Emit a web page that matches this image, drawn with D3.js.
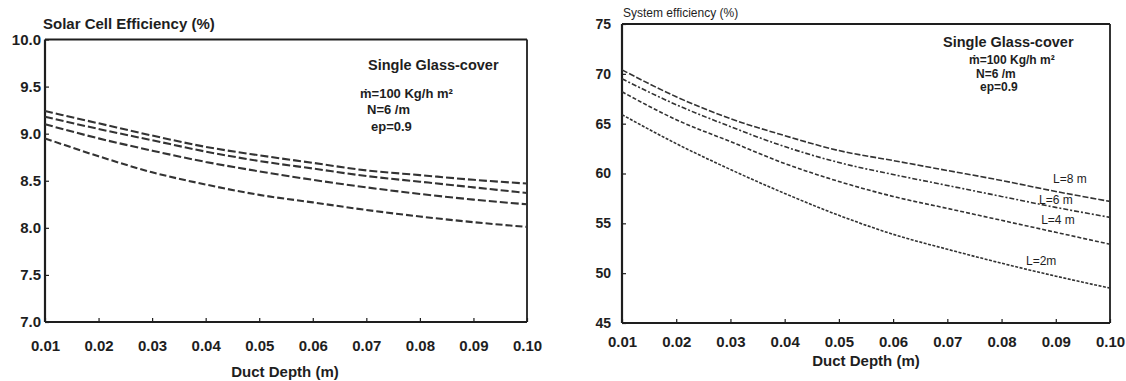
<!DOCTYPE html>
<html>
<head>
<meta charset="utf-8">
<script src="https://cdn.jsdelivr.net/npm/d3@7"></script>
<style>
  html,body{margin:0;padding:0;background:#fff;}
  svg{display:block;}
  text{font-family:"Liberation Sans", Arial, sans-serif; fill:#1e1e1e;}
</style>
</head>
<body>
<svg id="chart" width="1126" height="381"></svg>
<script>
// ---------- DATA ----------
const depth = [0.01,0.02,0.03,0.04,0.05,0.06,0.07,0.08,0.09,0.10];
const depthTicks = [0.01,0.02,0.03,0.04,0.05,0.06,0.07,0.08,0.09,0.10];

// Left panel: solar cell efficiency (%)
const cellL8 = [9.24,9.11,8.98,8.86,8.77,8.69,8.61,8.56,8.51,8.47];
const cellL6 = [9.18,9.05,8.93,8.81,8.71,8.63,8.55,8.49,8.43,8.37];
const cellL4 = [9.10,8.95,8.82,8.70,8.60,8.51,8.43,8.36,8.30,8.25];
const cellL2 = [8.95,8.76,8.59,8.46,8.35,8.27,8.19,8.12,8.06,8.01];
const cellTicks = [7.0,7.5,8.0,8.5,9.0,9.5,10.0];

// Right panel: system efficiency (%)
const sysL8 = [70.4,67.7,65.5,63.8,62.3,61.3,60.3,59.3,58.2,57.2];
const sysL6 = [69.5,66.9,64.7,62.7,61.1,59.9,58.8,57.7,56.6,55.6];
const sysL4 = [68.2,65.4,63.2,61.0,59.2,57.7,56.5,55.3,54.1,52.9];
const sysL2 = [65.9,63.0,60.4,58.0,55.8,53.9,52.4,51.0,49.7,48.5];
const sysTicks = [45,50,55,60,65,70,75];
const sysLabels = ["L=8 m","L=6 m","L=4 m","L=2m"];
const sysLabelDepth = [0.0895,0.0869,0.0873,0.0845];

// ---------- DRAW ----------
const svg = d3.select("#chart");
const ink = "#1e1e1e";
const FONT = '"Liberation Sans", Arial, sans-serif';

function panel(opt){
  const g = svg.append("g");
  const x = d3.scaleLinear().domain([0.01,0.10]).range([opt.x0,opt.x1]);
  const y = d3.scaleLinear().domain(opt.yDomain).range([opt.y1,opt.y0]);

  const xa = g.append("g").attr("transform",`translate(0,${opt.y1})`)
    .call(d3.axisBottom(x).tickValues(depthTicks).tickSize(-4).tickPadding(opt.xPad).tickFormat(d3.format(".2f")));
  const ya = g.append("g").attr("transform",`translate(${opt.x0},0)`)
    .call(d3.axisLeft(y).tickValues(opt.yTicks).tickSize(-4).tickPadding(opt.yPad).tickFormat(opt.yFmt));
  [xa,ya].forEach(a=>{
    a.select(".domain").remove();
    a.selectAll(".tick line").attr("stroke",ink).attr("stroke-width",1.2);
    a.selectAll("text").attr("font-size",15).attr("font-weight","bold").attr("fill",ink).attr("font-family",FONT);
  });
  ya.selectAll("text").attr("font-size",opt.yFont);

  g.append("line").attr("x1",opt.x0).attr("x2",opt.x0).attr("y1",opt.y0).attr("y2",opt.y1).attr("stroke",ink).attr("stroke-width",2.2);
  g.append("line").attr("x1",opt.x0).attr("x2",opt.x1).attr("y1",opt.y1).attr("y2",opt.y1).attr("stroke",ink).attr("stroke-width",2.2);
  g.append("line").attr("x1",opt.x0).attr("x2",opt.x1).attr("y1",opt.y0).attr("y2",opt.y0).attr("stroke",ink).attr("stroke-width",2);
  g.append("line").attr("x1",opt.x1).attr("x2",opt.x1).attr("y1",opt.y0).attr("y2",opt.y1).attr("stroke",ink).attr("stroke-width",1.8);

  const line = d3.line().x((d,i)=>x(depth[i])).y(d=>y(d)).curve(d3.curveMonotoneX);
  opt.series.forEach((s,i)=>{
    g.append("path").attr("d",line(s)).attr("fill","none").attr("stroke",opt.stroke)
      .attr("stroke-width",opt.sw).attr("stroke-dasharray",opt.dash[i]);
  });
  return {g,x,y};
}

// Left panel
const L = panel({
  x0:45, x1:527, y0:39.5, y1:322,
  yDomain:[7,10], yTicks:cellTicks, yFmt:d3.format(".1f"),
  xPad:18, yPad:4, yFont:15,
  series:[cellL8,cellL6,cellL4,cellL2],
  dash:["8,3","8,3","8,3","7,3"], stroke:"#333", sw:2.1
});
L.g.append("text").attr("x",43).attr("y",29).attr("font-size",15).attr("font-weight","bold").text("Solar Cell Efficiency (%)");
L.g.append("text").attr("x",285).attr("y",377).attr("text-anchor","middle").attr("font-size",15).attr("font-weight","bold").text("Duct Depth (m)");
L.g.append("text").attr("x",368).attr("y",70).attr("font-size",14.5).attr("font-weight","bold").text("Single Glass-cover");
L.g.append("text").attr("x",360).attr("y",98).attr("font-size",13).attr("font-weight","bold").text("ṁ=100 Kg/h m²");
L.g.append("text").attr("x",367).attr("y",114).attr("font-size",13).attr("font-weight","bold").text("N=6 /m");
L.g.append("text").attr("x",371).attr("y",131).attr("font-size",13).attr("font-weight","bold").text("ep=0.9");

// Right panel
const R = panel({
  x0:622, x1:1110, y0:24, y1:323,
  yDomain:[45,75], yTicks:sysTicks, yFmt:d3.format("d"),
  xPad:13, yPad:11, yFont:14,
  series:[sysL8,sysL6,sysL4,sysL2],
  dash:["6,2","5,2,2,2","4,2","3,1.5"], stroke:"#333", sw:1.6
});
R.g.append("text").attr("x",623).attr("y",17).attr("font-size",12).text("System efficiency (%)");
R.g.append("text").attr("x",866).attr("y",366).attr("text-anchor","middle").attr("font-size",15).attr("font-weight","bold").text("Duct Depth (m)");
R.g.append("text").attr("x",943).attr("y",47).attr("font-size",14.5).attr("font-weight","bold").text("Single Glass-cover");
R.g.append("text").attr("x",969).attr("y",64).attr("font-size",12).attr("font-weight","bold").text("ṁ=100 Kg/h m²");
R.g.append("text").attr("x",976).attr("y",77.5).attr("font-size",12).attr("font-weight","bold").text("N=6 /m");
R.g.append("text").attr("x",980).attr("y",91).attr("font-size",12).attr("font-weight","bold").text("ep=0.9");

// curve labels near the right ends of the curves
const labelOffset = [-8,0,-5,-4];
[sysL8,sysL6,sysL4,sysL2].forEach((s,i)=>{
  const xv = sysLabelDepth[i];
  const yv = d3.scaleLinear().domain(depth).range(s)(xv);
  R.g.append("text").attr("x",R.x(xv)).attr("y",R.y(yv)+labelOffset[i])
    .attr("font-size",12).attr("fill","#333").text(sysLabels[i]);
});
</script>
</body>
</html>
